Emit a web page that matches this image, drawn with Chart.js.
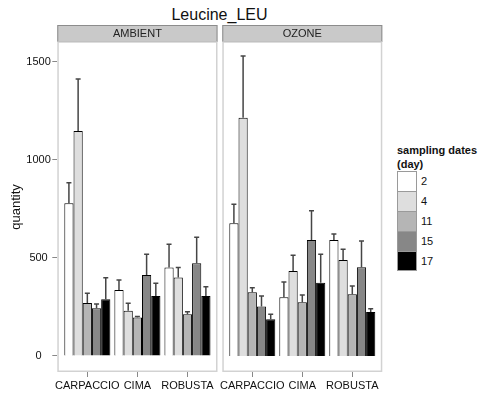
<!DOCTYPE html>
<html>
<head>
<meta charset="utf-8">
<script src="https://cdn.jsdelivr.net/npm/chart.js@4.4.1/dist/chart.umd.min.js"></script>
<style>
  html, body { margin: 0; padding: 0; background: #fff; }
  body { width: 481px; height: 396px; position: relative; overflow: hidden; font-family: "Liberation Sans", Arial, sans-serif; color: #111; }
  #title { position: absolute; left: 0; top: 6px; width: 439px; text-align: center; font-size: 16px; line-height: 18px; }
  canvas { position: absolute; top: 0; }
  #ambient { left: 0; }
  #ozone { left: 220px; }
  #legend { position: absolute; left: 397px; top: 143px; font-size: 11px; }
  #legend .head { font-weight: bold; line-height: 14px; margin-bottom: 0; }
  #legend .row { display: flex; align-items: center; height: 20px; }
  #legend .box { width: 20px; height: 20px; box-sizing: border-box; border: 1px solid #9a9a9a; border-bottom: none; }
  #legend .row:last-child .box { border-bottom: 1px solid #9a9a9a; }
  #legend .lab { margin-left: 4px; }
</style>
</head>
<body>
<div id="title">Leucine_LEU</div>
<canvas id="ambient" width="220" height="396"></canvas>
<canvas id="ozone" width="165" height="396"></canvas>
<div id="legend"></div>

<script>
// --- data -------------------------------------------------------------------
const sites = ['CARPACCIO', 'CIMA', 'ROBUSTA']
const days = ['2', '4', '11', '15', '17']
const dayColors = ['#ffffff', '#dedede', '#b5b5b5', '#878787', '#000000']
const yTicks = [0, 500, 1000, 1500]

// one row per sampling date, one value per site
const ambientMean = [
    [779, 337, 451],
    [1148, 230, 400],
    [270, 196, 213],
    [243, 413, 473],
    [289, 306, 306]
]
const ambientErr = [
    [105, 51, 119],
    [265, 39, 51],
    [50, 5, 13],
    [22, 106, 132],
    [110, 65, 47]
]
const ozoneMean = [
    [677, 299, 592],
    [1215, 433, 490],
    [325, 274, 315],
    [252, 592, 452],
    [187, 374, 224]
]
const ozoneErr = [
    [97, 78, 30],
    [315, 81, 54],
    [23, 37, 42],
    [54, 149, 135],
    [26, 145, 17]
]

Chart.defaults.font.family = '"Liberation Sans", Arial, sans-serif'
Chart.defaults.color = '#111'

// --- plugins ----------------------------------------------------------------
// grey strip on top of each panel + light panel frame
const panelPlugin = {
    id: 'panel',
    beforeDraw(chart, args, opts) {
        const { ctx, chartArea: a } = chart
        const stripTop = 25
        ctx.save()
        ctx.fillStyle = '#c9c9c9'
        ctx.fillRect(a.left, stripTop, a.width, a.top - stripTop)
        ctx.strokeStyle = '#8c8c8c'
        ctx.lineWidth = 1
        ctx.strokeRect(a.left + 0.5, stripTop + 0.5, a.width - 1, a.top - stripTop - 1)
        ctx.fillStyle = '#222'
        ctx.font = '11px "Liberation Sans", Arial, sans-serif'
        ctx.textAlign = 'center'
        ctx.textBaseline = 'middle'
        ctx.fillText(opts.label, (a.left + a.right) / 2, (stripTop + a.top) / 2 + 0.5)

        ctx.strokeStyle = '#d2d2d2'
        ctx.lineWidth = 1.5
        ctx.strokeRect(a.left + 0.75, a.top, a.width - 1.5, a.height - 0.75)
        ctx.restore()
    }
}

// upper whisker only, like the reference
const errorBarPlugin = {
    id: 'errorBars',
    afterDatasetsDraw(chart) {
        const { ctx } = chart
        const yScale = chart.scales.y
        ctx.save()
        ctx.strokeStyle = '#454545'
        ctx.lineWidth = 1.5
        chart.data.datasets.forEach((ds, i) => {
            chart.getDatasetMeta(i).data.forEach((bar, j) => {
                const top = yScale.getPixelForValue(ds.data[j].y + ds.errors[j])
                ctx.beginPath()
                ctx.moveTo(bar.x, bar.y)
                ctx.lineTo(bar.x, top)
                ctx.moveTo(bar.x - 2.5, top)
                ctx.lineTo(bar.x + 2.5, top)
                ctx.stroke()
            })
        })
        ctx.restore()
    }
}

// --- charts -----------------------------------------------------------------
function makePanel(canvasId, label, means, errs, showY) {
    return new Chart(document.getElementById(canvasId), {
        type: 'bar',
        data: {
            datasets: days.map((d, i) => ({
                label: d,
                data: sites.map((s, j) => ({ x: j + 1, y: means[i][j] })),
                errors: errs[i],
                backgroundColor: dayColors[i],
                borderColor: '#000',
                borderWidth: 1,
                barPercentage: 1,
                categoryPercentage: 0.92
            }))
        },
        options: {
            responsive: false,
            animation: false,
            layout: {
                padding: showY
                    ? { left: 0, right: 2.5, top: 42, bottom: 0 }
                    : { left: 2.3, right: 2.7, top: 42, bottom: 0 }
            },
            plugins: {
                legend: { display: false },
                tooltip: { enabled: false },
                panel: { label: label }
            },
            scales: {
                x: {
                    type: 'linear',
                    offset: false,
                    min: 0.4,
                    max: 3.6,
                    afterBuildTicks: s => { s.ticks = sites.map((c, j) => ({ value: j + 1 })) },
                    // labels never reach the panel edges, so no extra side padding
                    afterFit: s => { s.height = 24; s.paddingLeft = 0; s.paddingRight = 0 },
                    grid: { display: true, drawOnChartArea: false, drawTicks: true, tickLength: 5, color: '#888', offset: false },
                    border: { display: false },
                    ticks: {
                        callback: v => sites[v - 1],
                        font: { size: 11 },
                        color: '#111',
                        padding: 2,
                        maxRotation: 0,
                        autoSkip: false
                    }
                },
                y: {
                    display: showY,
                    min: -82,
                    max: 1602,
                    afterBuildTicks: s => { s.ticks = yTicks.map(v => ({ value: v })) },
                    afterFit: s => { s.width = showY ? 57.3 : 0 },
                    grid: { drawOnChartArea: false, tickLength: 5, color: '#888' },
                    border: { display: false },
                    ticks: { callback: v => String(v), font: { size: 11 }, color: '#111', padding: 1.5, crossAlign: 'center' },
                    title: { display: true, text: 'quantity', font: { size: 13 }, color: '#111', padding: { top: 9 } }
                }
            }
        },
        plugins: [panelPlugin, errorBarPlugin]
    })
}

makePanel('ambient', 'AMBIENT', ambientMean, ambientErr, true)
makePanel('ozone', 'OZONE', ozoneMean, ozoneErr, false)

// --- legend -----------------------------------------------------------------
const legend = document.getElementById('legend')
legend.innerHTML = '<div class="head">sampling dates<br>(day)</div>' +
    days.map((d, i) =>
        `<div class="row"><div class="box" style="background:${dayColors[i]}"></div><span class="lab">${d}</span></div>`
    ).join('')
</script>
</body>
</html>
